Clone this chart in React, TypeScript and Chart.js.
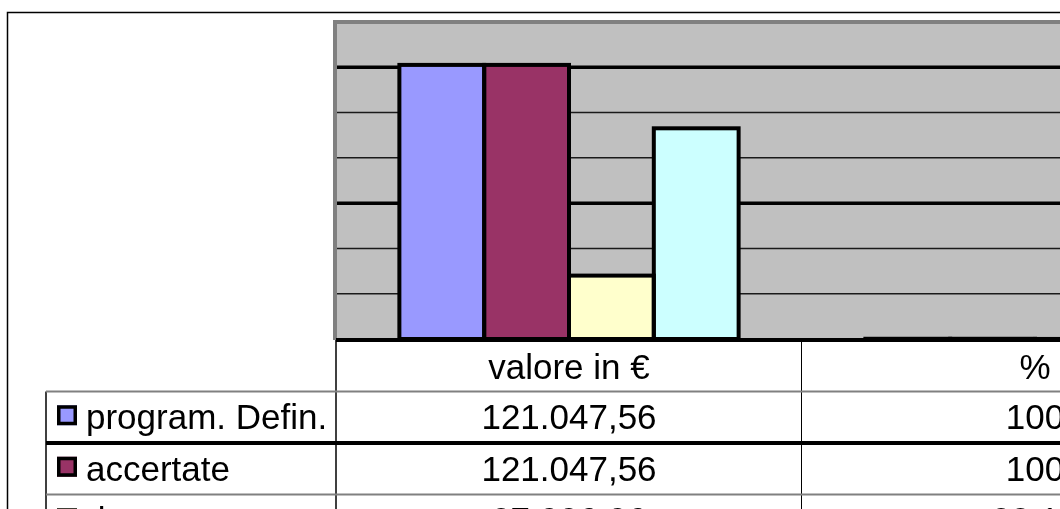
import React, { useEffect, useRef } from "react";
import { Chart, registerables } from "chart.js";

Chart.register(...registerables);

// ---- data ----
const categories = ["valore in €", "%"];
const seriesNames = ["program. Defin.", "accertate", "riscosse", "da riscuotere"];
const programDefin = [121047.56, 100];
const accertate = [121047.56, 100];
const riscosse = [27996.96, 23.13];
const daRiscuotere = [93050.6, 76.87];
const seriesColors = ["#9999FF", "#993366", "#FFFFCC", "#CCFFFF"];
const yMin = 0;
const yMax = 140000;
const yStep = 20000;
const yMajorStep = 60000;

const seriesValues = [programDefin, accertate, riscosse, daRiscuotere];

const W = 1400;
const H = 700;
const FONT = "35px 'Liberation Sans', Arial, sans-serif";

function fmtNumber(v: number, catIndex: number): string {
  if (catIndex === 1 && Number.isInteger(v)) return String(v);
  const fixed = v.toFixed(2);
  const [intPart, dec] = fixed.split(".");
  if (catIndex === 1) return intPart + "," + dec;
  const withDots = intPart.replace(/\B(?=(\d{3})+(?!\d))/g, ".");
  return withDots + "," + dec;
}

const tablePlugin = {
  id: "excelLook",
  beforeDraw(chart: any) {
    const ctx = chart.ctx;
    const ca = chart.chartArea;
    const yScale = chart.scales.y;
    ctx.save();
    ctx.fillStyle = "#ffffff";
    ctx.fillRect(0, 0, W, H);
    // outer frame
    ctx.strokeStyle = "#000";
    ctx.lineWidth = 1.5;
    ctx.beginPath();
    ctx.moveTo(7.5, H);
    ctx.lineTo(7.5, 12.5);
    ctx.lineTo(W, 12.5);
    ctx.stroke();
    // plot wall
    const zeroY = yScale.getPixelForValue(0);
    ctx.fillStyle = "#C0C0C0";
    ctx.fillRect(ca.left - 3, 20, W, zeroY + 1 - 20);
    ctx.fillStyle = "#808080";
    ctx.fillRect(ca.left - 3, 20, 4, zeroY + 1 - 20);
    ctx.fillRect(ca.left - 3, 20, W, 4);
    ctx.restore();
  },
  beforeDatasetsDraw(chart: any) {
    const ctx = chart.ctx;
    const ca = chart.chartArea;
    const yScale = chart.scales.y;
    ctx.save();
    yScale.ticks.forEach((t: any) => {
      if (t.value <= yMin || t.value >= yMax) return;
      const py = yScale.getPixelForValue(t.value);
      const major = t.value % yMajorStep === 0;
      ctx.strokeStyle = major ? "#000" : "#1a1a1a";
      ctx.lineWidth = major ? 3.5 : 1.5;
      ctx.beginPath();
      ctx.moveTo(ca.left + 1, py);
      ctx.lineTo(W, py);
      ctx.stroke();
    });
    ctx.restore();
  },
  afterDatasetsDraw(chart: any) {
    const ctx = chart.ctx;
    const ca = chart.chartArea;
    const yScale = chart.scales.y;
    const xScale = chart.scales.x;
    ctx.save();
    // bar outlines (centered strokes)
    ctx.strokeStyle = "#000";
    ctx.lineWidth = 4;
    chart.data.datasets.forEach((_d: any, di: number) => {
      const meta = chart.getDatasetMeta(di);
      meta.data.forEach((el: any) => {
        const p = el.getProps(["x", "y", "base", "width"], true);
        ctx.strokeRect(p.x - p.width / 2, p.y, p.width, p.base - p.y);
      });
    });
    // baseline
    const zeroY = yScale.getPixelForValue(0) + 1;
    ctx.lineWidth = 4;
    ctx.beginPath();
    ctx.moveTo(ca.left, zeroY);
    ctx.lineTo(W, zeroY);
    ctx.stroke();

    // ---- data table ----
    const nCat = categories.length;
    const catW = (xScale.right - xScale.left) / nCat;
    const tableTop = zeroY + 2;
    const headerBottom = 391.5;
    const rowH = 51.5;
    const legendLeft = 46;
    const nRows = seriesNames.length;

    // vertical lines
    ctx.strokeStyle = "#000";
    ctx.lineWidth = 1.5;
    ctx.beginPath();
    ctx.moveTo(xScale.left, zeroY);
    ctx.lineTo(xScale.left, H);
    ctx.stroke();
    ctx.beginPath();
    ctx.moveTo(legendLeft, headerBottom);
    ctx.lineTo(legendLeft, H);
    ctx.stroke();
    ctx.lineWidth = 1;
    for (let k = 1; k < nCat; k++) {
      const vx = Math.round(xScale.left + k * catW) - 0.5;
      ctx.beginPath();
      ctx.moveTo(vx, zeroY);
      ctx.lineTo(vx, H);
      ctx.stroke();
    }
    // horizontal lines
    for (let i = 0; i <= nRows; i++) {
      const hy = headerBottom + i * rowH;
      if (i === 1) {
        ctx.strokeStyle = "#000";
        ctx.lineWidth = 4;
      } else {
        ctx.strokeStyle = "#808080";
        ctx.lineWidth = 2;
      }
      ctx.beginPath();
      ctx.moveTo(legendLeft, hy);
      ctx.lineTo(W, hy);
      ctx.stroke();
    }
    // header text
    ctx.fillStyle = "#000";
    ctx.font = FONT;
    ctx.textAlign = "center";
    ctx.textBaseline = "alphabetic";
    const headerCenter = (tableTop + headerBottom) / 2;
    categories.forEach((c, ci) => {
      const cx = xScale.getPixelForValue(ci);
      ctx.fillText(c, cx, headerCenter + 12);
    });
    // rows
    seriesNames.forEach((name, ri) => {
      const top = headerBottom + ri * rowH;
      const mid = top + rowH / 2;
      // legend key
      ctx.fillStyle = seriesColors[ri];
      ctx.fillRect(57, mid - 12, 20, 20);
      ctx.strokeStyle = "#000";
      ctx.lineWidth = 3.5;
      ctx.strokeRect(58.75, mid - 10.25, 16.5, 16.5);
      ctx.fillStyle = "#000";
      ctx.textAlign = "left";
      ctx.fillText(name, 86, mid + 12);
      ctx.textAlign = "center";
      seriesValues[ri].forEach((v, ci) => {
        const cx = xScale.getPixelForValue(ci);
        ctx.fillText(fmtNumber(v, ci), cx, mid + 12);
      });
    });
    ctx.restore();
  },
};

export default function App() {
  const canvasRef = useRef<HTMLCanvasElement | null>(null);

  useEffect(() => {
    const canvas = canvasRef.current;
    if (!canvas) return;
    const chart = new Chart(canvas, {
      type: "bar",
      data: {
        labels: categories,
        datasets: seriesNames.map((name, i) => ({
          label: name,
          data: seriesValues[i],
          backgroundColor: seriesColors[i],
          borderWidth: 0,
          barPercentage: 1,
          categoryPercentage: 0.728,
        })),
      },
      options: {
        responsive: false,
        animation: false,
        devicePixelRatio: 1,
        layout: {
          padding: { left: 336, right: W - 1268, top: 22, bottom: H - 339 },
        },
        plugins: {
          legend: { display: false },
          tooltip: { enabled: false },
          title: { display: false },
        },
        scales: {
          x: { display: false, offset: true },
          y: {
            display: false,
            min: yMin,
            max: yMax,
            ticks: { stepSize: yStep },
          },
        },
      },
      plugins: [tablePlugin],
    });
    return () => chart.destroy();
  }, []);

  return (
    <div
      style={{
        position: "fixed",
        left: 0,
        top: 0,
        width: 1060,
        height: 509,
        overflow: "hidden",
        background: "#fff",
      }}
    >
      <canvas
        ref={canvasRef}
        width={W}
        height={H}
        style={{ position: "absolute", left: 0, top: 0, width: W, height: H }}
      />
    </div>
  );
}
